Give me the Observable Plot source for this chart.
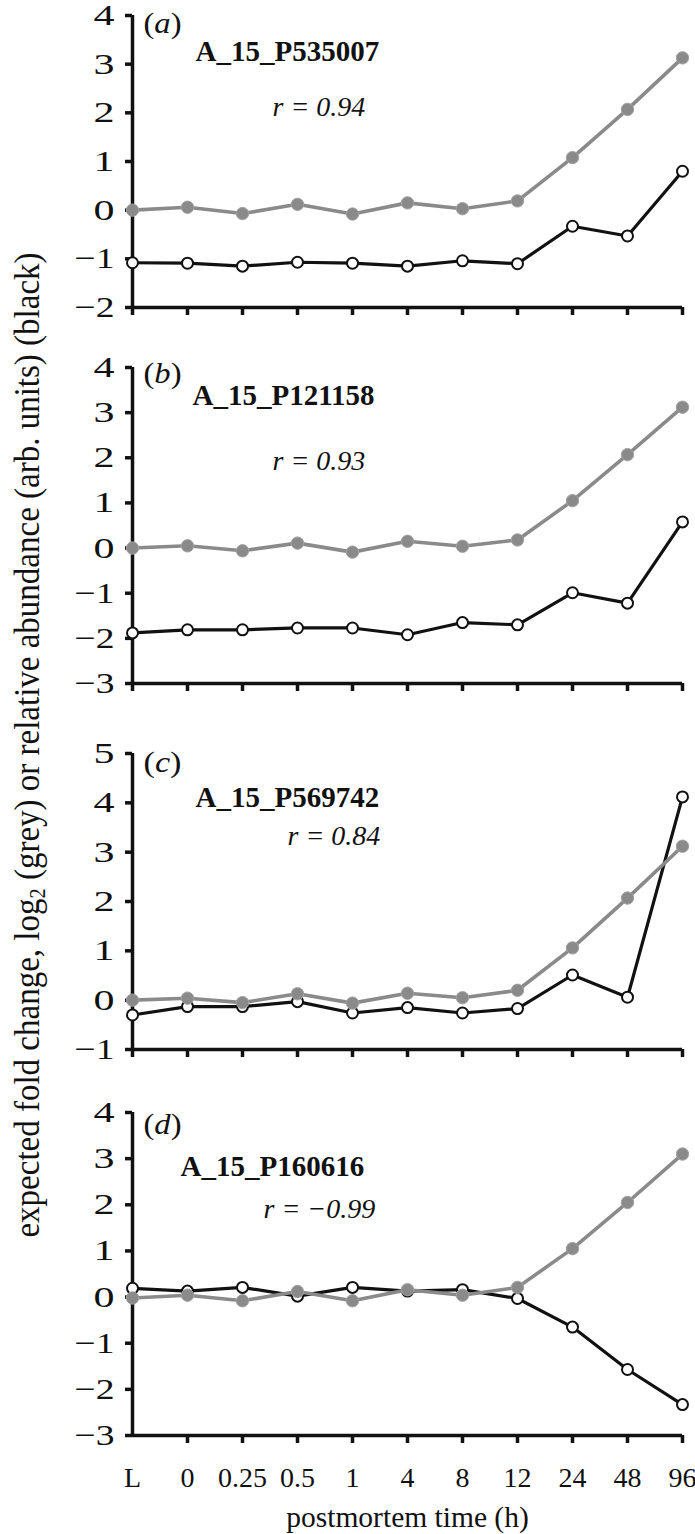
<!DOCTYPE html>
<html>
<head>
<meta charset="utf-8">
<script src="https://cdn.jsdelivr.net/npm/d3@7"></script>
<script src="https://cdn.jsdelivr.net/npm/@observablehq/plot@0.6"></script>
<style>
  html, body { margin: 0; padding: 0; background: #fff; }
  #wrap { position: relative; width: 695px; height: 1534px; overflow: hidden; font-family: "Liberation Serif", "Times New Roman", serif; }
  #wrap svg { position: absolute; left: 0; overflow: visible; }
  #ytitle { position: absolute; left: 28px; top: 745px; white-space: nowrap; font-size: 33px; color: #111;
            transform: translate(-50%, -50%) rotate(-90deg) scaleY(1.08); font-family: "Liberation Serif", serif; }
  #ytitle sub { font-size: 0.62em; vertical-align: -0.25em; line-height: 0; }
</style>
</head>
<body>
<div id="wrap">
  <div id="ytitle">expected fold change, log<sub>2</sub> (grey) or relative abundance (arb. units) (black)</div>
</div>
<script>
// ---- data ----
const categories = ["L", "0", "0.25", "0.5", "1", "4", "8", "12", "24", "48", "96"];

const genes = ["A_15_P535007", "A_15_P121158", "A_15_P569742", "A_15_P160616"];
const panelLetters = ["a", "b", "c", "d"];
const rLabels = ["r = 0.94", "r = 0.93", "r = 0.84", "r = \u22120.99"];

const greyA  = [0.00, 0.06, -0.07, 0.12, -0.08, 0.15, 0.03, 0.19, 1.08, 2.07, 3.13];
const blackA = [-1.08, -1.09, -1.15, -1.07, -1.09, -1.15, -1.04, -1.10, -0.33, -0.53, 0.80];

const greyB  = [0.00, 0.05, -0.06, 0.11, -0.09, 0.15, 0.04, 0.18, 1.05, 2.07, 3.12];
const blackB = [-1.88, -1.81, -1.81, -1.77, -1.77, -1.92, -1.65, -1.70, -0.99, -1.22, 0.58];

const greyC  = [0.00, 0.04, -0.05, 0.13, -0.06, 0.14, 0.05, 0.20, 1.06, 2.07, 3.12];
const blackC = [-0.30, -0.13, -0.13, -0.03, -0.26, -0.15, -0.26, -0.17, 0.51, 0.06, 4.12];

const greyD  = [-0.02, 0.04, -0.08, 0.12, -0.08, 0.16, 0.04, 0.21, 1.05, 2.05, 3.10];
const blackD = [0.19, 0.13, 0.21, 0.02, 0.21, 0.13, 0.16, -0.03, -0.65, -1.57, -2.33];

const yDomains = [[-2, 4], [-3, 4], [-1, 5], [-3, 4]];
const yTickValues = [d3.range(-2, 5), d3.range(-3, 5), d3.range(-1, 6), d3.range(-3, 5)];
const greys = [greyA, greyB, greyC, greyD];
const blacks = [blackA, blackB, blackC, blackD];

// ---- layout (pixels) ----
const layout = [
  {top: 0,    height: 335, mt: 15, mb: 28, letterY: 23,  geneX: 195, geneY: 51,  rX: 272, rY: 107},
  {top: 335,  height: 365, mt: 32, mb: 17, letterY: 38,  geneX: 192, geneY: 60,  rX: 272, rY: 126},
  {top: 700,  height: 380, mt: 53, mb: 31, letterY: 62,  geneX: 195, geneY: 97,  rX: 287, rY: 136},
  {top: 1080, height: 454, mt: 32, mb: 99, letterY: 44,  geneX: 180, geneY: 86,  rX: 263, rY: 129}
];

const GREY = "#8a8a8a";
const FONT = "Liberation Serif, Times New Roman, serif";
const fmtTick = d => (d < 0 ? "\u2212" : "") + Math.abs(d);

// y tick labels: fixed rendered widths (positive digit / negative value)
function widenYTicks(svg) {
  svg.querySelectorAll("g[aria-label='y-axis tick label'] text").forEach(t => {
    const neg = t.textContent.startsWith("\u2212");
    t.setAttribute("textLength", neg ? 40 : 21);
    t.setAttribute("lengthAdjust", "spacingAndGlyphs");
  });
}

function italicLetter(svg) {
  svg.querySelectorAll("g[aria-label='text'] text").forEach(t => {
    const s = t.textContent;
    if (!(s.length === 3 && s[0] === "(" && s[2] === ")")) return;
    t.textContent = "";
    const ns = "http://www.w3.org/2000/svg";
    const a = document.createElementNS(ns, "tspan"); a.textContent = "(";
    const b = document.createElementNS(ns, "tspan"); b.textContent = s[1]; b.setAttribute("font-style", "italic");
    const c = document.createElementNS(ns, "tspan"); c.textContent = ")";
    t.append(a, b, c);
    t.setAttribute("textLength", 38);
    t.setAttribute("lengthAdjust", "spacingAndGlyphs");
  });
}

const wrap = document.getElementById("wrap");

layout.forEach((L, i) => {
  const rows = categories.map((c, j) => ({cat: c, grey: greys[i][j], black: blacks[i][j]}));
  const [y0, y1] = yDomains[i];
  const isLast = i === 3;
  const marks = [
    Plot.ruleX([categories[0]], {y1: y0, y2: y1, stroke: "#111", strokeWidth: 3.5}),
    Plot.ruleY([y0], {x1: () => categories[0], x2: () => categories[categories.length - 1], stroke: "#111", strokeWidth: 3.5}),
    Plot.axisY({ticks: yTickValues[i], tickFormat: fmtTick, tickSize: 7, tickPadding: 11, strokeWidth: 3.5, fontSize: 29.5, fontFamily: FONT, fill: "#111", stroke: "#111", label: null}),
    Plot.axisX({ticks: isLast ? categories.slice(1) : categories, tickSize: 8, strokeWidth: 3.5, tickFormat: () => "", label: null, stroke: "#111"}),
    Plot.line(rows, {x: "cat", y: "black", stroke: "#111", strokeWidth: 3.2}),
    Plot.dot(rows, {x: "cat", y: "black", r: 5.5, fill: "white", stroke: "#111", strokeWidth: 2}),
    Plot.line(rows, {x: "cat", y: "grey", stroke: GREY, strokeWidth: 3.6}),
    Plot.dot(rows, {x: "cat", y: "grey", r: 6.2, fill: GREY, stroke: "#a3a3a3", strokeWidth: 1}),
    Plot.text([`(${panelLetters[i]})`], {frameAnchor: "top-left", lineAnchor: "middle", dx: 11, dy: L.letterY - L.mt, textAnchor: "start", fontSize: 30, fontFamily: FONT, fill: "#111"}),
    Plot.text([genes[i]], {frameAnchor: "top-left", lineAnchor: "middle", dx: L.geneX - 132, dy: L.geneY - L.mt, textAnchor: "start", fontSize: 29, fontWeight: "bold", fontFamily: FONT, fill: "#111"}),
    Plot.text([rLabels[i]], {frameAnchor: "top-left", lineAnchor: "middle", dx: L.rX - 132, dy: L.rY - L.mt, textAnchor: "start", fontSize: 28, fontStyle: "italic", fontFamily: FONT, fill: "#111"})
  ];
  if (isLast) {
    marks.push(Plot.text(categories, {x: d => d, frameAnchor: "bottom", lineAnchor: "middle", dy: 43, fontSize: 28, fontFamily: FONT, fill: "#111"}));
    marks.push(Plot.text(["postmortem time (h)"], {frameAnchor: "bottom", lineAnchor: "middle", dy: 82, fontSize: 29.5, fontFamily: FONT, fill: "#111"}));
  }
  const chart = Plot.plot({
    width: 695,
    height: L.height,
    marginLeft: 132,
    marginRight: 13,
    marginTop: L.mt,
    marginBottom: L.mb,
    style: {background: "transparent", fontFamily: FONT, overflow: "visible"},
    x: {type: "point", domain: categories, padding: 0, axis: null},
    y: {domain: [y0, y1], axis: null},
    marks
  });
  chart.style.top = L.top + "px";
  widenYTicks(chart);
  italicLetter(chart);
  wrap.appendChild(chart);
});
</script>
</body>
</html>
